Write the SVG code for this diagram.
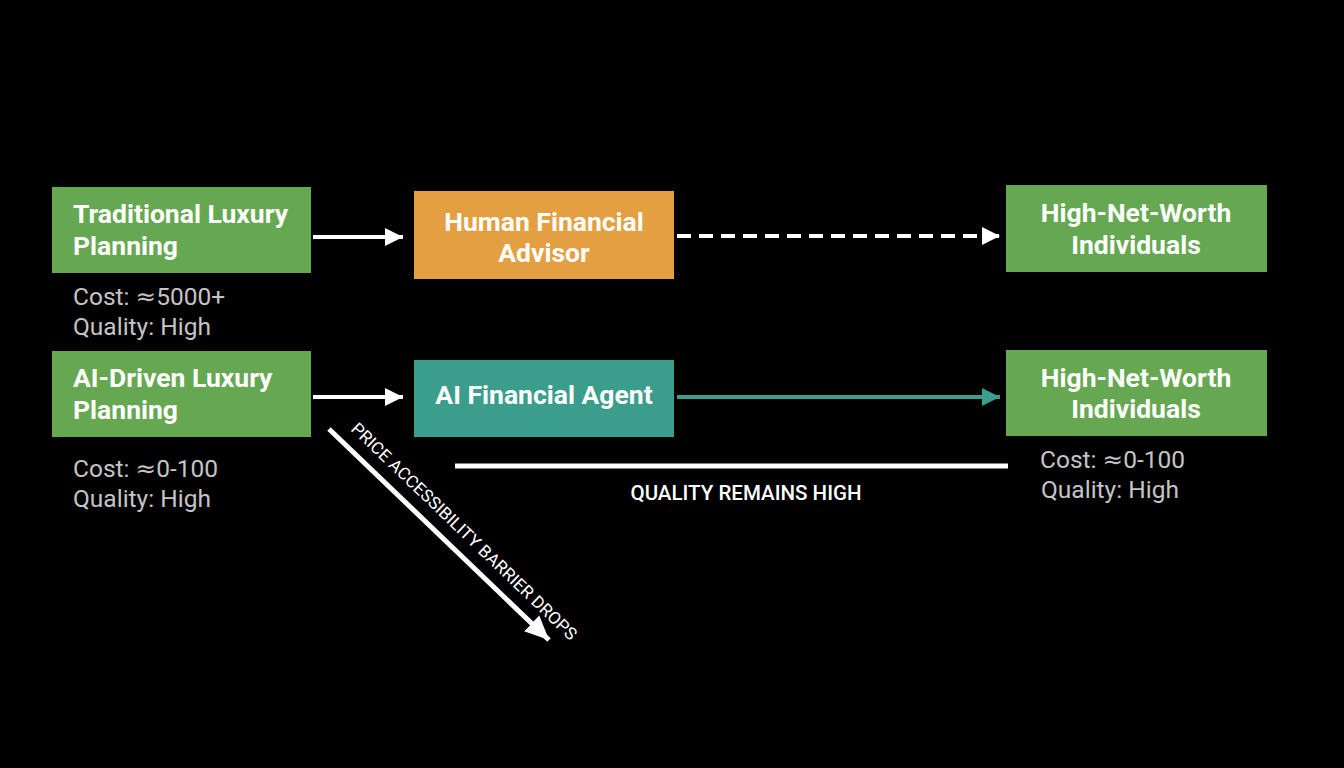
<svg xmlns="http://www.w3.org/2000/svg" width="1344" height="768" viewBox="0 0 1344 768">
<style>
.box-green{fill:#66a851}
.box-orange{fill:#e39f41}
.box-teal{fill:#3b9e8c}
.title{font-family:Roboto,"Liberation Sans",sans-serif;font-weight:bold;font-size:26.5px;fill:#ffffff}
.sub{font-family:Roboto,"Liberation Sans",sans-serif;font-size:24.5px;fill:#c4c4c4}
.approx{font-family:"DejaVu Sans",sans-serif}
.cap{font-family:Roboto,"Liberation Sans",sans-serif;font-weight:500;font-size:20px;fill:#ffffff}
.diag{font-family:Roboto,"Liberation Sans",sans-serif;font-size:17px;fill:#ffffff}
.wline{stroke:#ffffff;stroke-width:4;fill:none}
</style>
<defs>
<marker id="headW" markerUnits="userSpaceOnUse" markerWidth="20" markerHeight="20" refX="18" refY="10" orient="auto">
<polygon points="0,1 18,10 0,19" fill="#ffffff"/>
</marker>
<marker id="headT" markerUnits="userSpaceOnUse" markerWidth="20" markerHeight="20" refX="18" refY="10" orient="auto">
<polygon points="0,1 18,10 0,19" fill="#3b9e8c"/>
</marker>
<marker id="headD" markerUnits="userSpaceOnUse" markerWidth="26" markerHeight="24" refX="24" refY="12" orient="auto">
<polygon points="0,1 24,12 0,23" fill="#ffffff"/>
</marker>
</defs>
<rect width="1344" height="768" fill="#000000"/>

<g id="connectors">
<line class="wline" x1="313" y1="237" x2="403" y2="237" marker-end="url(#headW)"/>
<line class="wline" x1="677" y1="236" x2="1000" y2="236" stroke-dasharray="14 8" marker-end="url(#headW)"/>
<line class="wline" x1="313" y1="397" x2="403" y2="397" marker-end="url(#headW)"/>
<line x1="677" y1="397" x2="1000" y2="397" stroke="#3b9e8c" stroke-width="4" marker-end="url(#headT)"/>
<line x1="329" y1="429" x2="549" y2="640" stroke="#ffffff" stroke-width="5" marker-end="url(#headD)"/>
</g>

<g id="quality-line">
<line x1="455" y1="466" x2="1008" y2="466" stroke="#ffffff" stroke-width="5"/>
<text class="cap" x="746" y="500" text-anchor="middle" textLength="231" lengthAdjust="spacingAndGlyphs">QUALITY REMAINS HIGH</text>
</g>

<g id="diag-label">
<text class="diag" transform="translate(350,430) rotate(43.8)" textLength="305" lengthAdjust="spacingAndGlyphs">PRICE ACCESSIBILITY BARRIER DROPS</text>
</g>

<g id="traditional">
<rect class="box-green" x="52" y="187" width="259" height="86"/>
<text class="title" x="73" y="223">Traditional Luxury</text>
<text class="title" x="73" y="255">Planning</text>
</g>
<g id="traditional-stats">
<text class="sub" x="73" y="305">Cost: <tspan class="approx">≈</tspan>5000+</text>
<text class="sub" x="73" y="335">Quality: High</text>
</g>

<g id="human-advisor">
<rect class="box-orange" x="414" y="191" width="260" height="88"/>
<text class="title" x="544" y="231" text-anchor="middle">Human Financial</text>
<text class="title" x="544" y="262" text-anchor="middle">Advisor</text>
</g>

<g id="hnw-top">
<rect class="box-green" x="1006" y="185" width="261" height="87"/>
<text class="title" x="1136" y="222" text-anchor="middle">High-Net-Worth</text>
<text class="title" x="1136" y="254" text-anchor="middle">Individuals</text>
</g>

<g id="ai-driven">
<rect class="box-green" x="52" y="351" width="259" height="86"/>
<text class="title" x="73" y="387">AI-Driven Luxury</text>
<text class="title" x="73" y="419">Planning</text>
</g>
<g id="ai-driven-stats">
<text class="sub" x="73" y="477">Cost: <tspan class="approx">≈</tspan>0-100</text>
<text class="sub" x="73" y="507">Quality: High</text>
</g>

<g id="ai-agent">
<rect class="box-teal" x="414" y="360" width="260" height="77"/>
<text class="title" x="544" y="404" text-anchor="middle">AI Financial Agent</text>
</g>

<g id="hnw-bottom">
<rect class="box-green" x="1006" y="350" width="261" height="86"/>
<text class="title" x="1136" y="387" text-anchor="middle">High-Net-Worth</text>
<text class="title" x="1136" y="418" text-anchor="middle">Individuals</text>
</g>
<g id="hnw-bottom-stats">
<text class="sub" x="1040" y="468">Cost: <tspan class="approx">≈</tspan>0-100</text>
<text class="sub" x="1041" y="498">Quality: High</text>
</g>
</svg>
